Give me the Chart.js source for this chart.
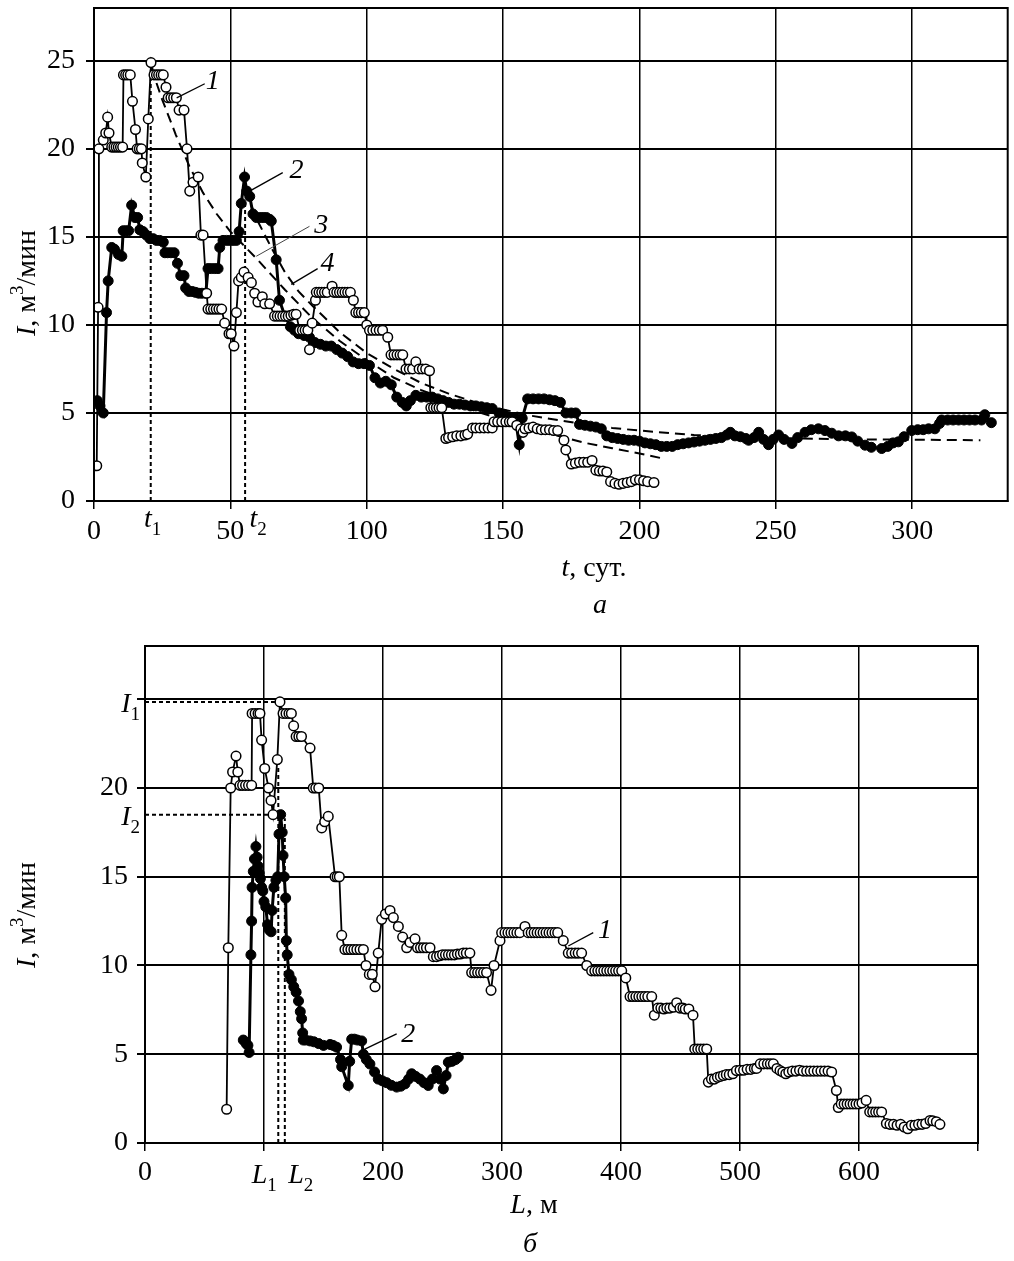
<!DOCTYPE html>
<html>
<head>
<meta charset="utf-8">
<script src="https://cdn.jsdelivr.net/npm/chart.js@4.4.0/dist/chart.umd.min.js"></script>
<style>
  body { margin: 0; background: #fff; width: 1014px; height: 1261px; position: relative; overflow: hidden; }
  canvas { position: absolute; left: 0; }
  #topChart { top: -20px; }
  #botChart { top: 620px; }
</style>
</head>
<body>
<canvas id="topChart" width="1014" height="640"></canvas>
<canvas id="botChart" width="1014" height="641"></canvas>
<script>
// ---- panel a: inflow I vs time t (days) ----
const topXTicks = [0, 50, 100, 150, 200, 250, 300];
const topYTicks = [0, 5, 10, 15, 20, 25];

// curve 1, open circles [t, I]
const topOpen = [
  [1.0,2.0],[1.5,11.0],[1.8,20.0],[3.4,20.5],[4.3,20.9],[5.0,21.8],[5.5,20.9],[6.5,20.1],[7.3,20.1],[8.1,20.1],
  [8.9,20.1],[9.7,20.1],[10.5,20.1],[10.8,24.2],[11.6,24.2],[12.4,24.2],[13.3,24.2],[14.1,22.7],[15.2,21.1],[15.8,20.0],
  [16.6,20.0],[17.4,20.0],[17.7,19.2],[19.0,18.4],[19.9,21.7],[20.9,24.9],[22.0,24.2],[22.9,24.2],[23.7,24.2],[24.6,24.2],
  [25.4,24.2],[26.4,23.5],[27.2,22.9],[28.2,22.9],[29.2,22.9],[30.2,22.9],[31.2,22.2],[33.0,22.2],[34.1,20.0],[35.1,17.6],
  [36.3,18.1],[38.2,18.4],[39.2,15.1],[40.0,15.1],[41.3,11.8],[41.8,10.9],[42.8,10.9],[43.8,10.9],[44.8,10.9],[45.8,10.9],
  [46.8,10.9],[47.9,10.1],[49.5,9.5],[50.3,9.5],[51.3,8.8],[52.2,10.7],[53.0,12.5],[54.0,12.7],[55.0,13.0],[56.5,12.7],
  [57.7,12.4],[58.9,11.8],[60.1,11.3],[61.7,11.6],[62.6,11.2],[64.4,11.2],[66.2,10.5],[67.2,10.5],[68.2,10.5],[69.2,10.5],
  [70.2,10.5],[71.2,10.5],[72.2,10.55],[73.2,10.6],[74.1,10.6],[75.4,9.7],[76.4,9.7],[77.4,9.7],[78.4,9.7],[79.0,8.6],
  [80.0,10.1],[81.2,11.4],[81.5,11.85],[82.5,11.85],[83.5,11.85],[84.5,11.85],[85.5,11.85],[87.3,12.2],[88.0,11.85],[89.0,11.85],
  [90.0,11.85],[91.0,11.85],[92.0,11.85],[93.0,11.85],[94.0,11.85],[95.1,11.4],[96.0,10.7],[97.0,10.7],[98.0,10.7],[99.1,10.7],
  [100.0,10.0],[101.0,9.7],[102.2,9.7],[103.4,9.7],[104.6,9.7],[105.8,9.7],[107.7,9.3],[108.9,8.3],[110.0,8.3],[111.1,8.3],
  [112.2,8.3],[113.2,8.3],[114.4,7.5],[115.6,7.5],[116.8,7.5],[118.0,7.9],[119.2,7.5],[120.4,7.5],[121.6,7.5],[123.0,7.4],
  [123.5,5.3],[124.5,5.3],[125.5,5.3],[126.5,5.3],[127.5,5.3],[129.0,3.55],[130.0,3.6],[131.5,3.65],[133.0,3.7],[134.5,3.7],
  [136.0,3.75],[137.0,3.8],[138.8,4.15],[140.0,4.15],[141.5,4.15],[143.0,4.15],[144.5,4.15],[146.0,4.15],[146.7,4.5],[148.0,4.5],
  [149.5,4.5],[151.0,4.5],[152.3,4.5],[153.3,4.5],[155.0,4.3],[156.5,4.1],[157.3,3.9],[158.0,4.1],[159.5,4.15],[161.0,4.2],
  [162.5,4.1],[164.0,4.05],[165.5,4.05],[167.0,4.05],[168.5,4.0],[170.0,4.0],[172.3,3.45],[173.0,2.9],[175.0,2.1],[176.5,2.15],
  [178.0,2.2],[179.5,2.2],[181.0,2.2],[182.6,2.3],[184.0,1.75],[185.3,1.7],[186.6,1.7],[188.0,1.65],[189.4,1.1],[191.0,1.0],
  [192.5,0.95],[194.0,1.0],[195.5,1.05],[197.0,1.1],[198.5,1.2],[200.0,1.2],[201.5,1.15],[203.0,1.1],[205.3,1.05]
];

// curve 2, filled circles [t, I]
const topFilled = [
  [1.2,5.7],[2.2,5.4],[3.4,5.0],[4.6,10.7],[5.2,12.5],[6.5,14.4],[7.5,14.3],[9.0,14.0],[10.2,13.9],[10.7,15.35],
  [11.7,15.35],[12.7,15.35],[13.8,16.8],[15.0,16.1],[16.0,16.1],[16.8,15.4],[18.0,15.3],[19.2,15.1],[20.5,14.9],[21.7,14.9],
  [22.9,14.8],[24.1,14.8],[25.4,14.7],[26.0,14.1],[27.0,14.1],[28.2,14.1],[29.4,14.1],[30.6,13.5],[31.8,12.8],[33.0,12.8],
  [33.6,12.1],[34.8,11.9],[36.0,11.9],[37.2,11.85],[38.4,11.8],[39.6,11.8],[41.0,11.8],[41.8,13.2],[43.0,13.2],[44.3,13.2],
  [45.5,13.2],[46.1,14.4],[47.3,14.8],[48.6,14.8],[49.8,14.8],[51.0,14.8],[52.2,14.8],[53.2,15.3],[54.0,16.9],[55.2,18.4],
  [56.0,17.6],[57.1,17.3],[58.3,16.3],[59.5,16.1],[60.8,16.1],[62.0,16.1],[63.2,16.1],[64.4,16.0],[65.0,15.9],[66.8,13.7],
  [68.0,11.4],[70.0,10.5],[72.0,9.9],[73.5,9.7],[75.0,9.5],[77.0,9.4],[79.0,9.3],[81.0,9.0],[83.0,8.9],[85.0,8.8],
  [87.0,8.8],[89.0,8.6],[91.0,8.4],[93.0,8.2],[95.0,7.9],[97.0,7.8],[99.0,7.8],[101.0,7.7],[103.0,7.0],[105.0,6.7],
  [107.0,6.8],[109.0,6.6],[111.0,5.9],[113.0,5.6],[114.5,5.4],[116.0,5.7],[118.0,6.0],[120.0,5.9],[122.0,5.9],[124.0,5.9],
  [126.0,5.8],[128.0,5.7],[130.0,5.6],[132.0,5.5],[134.0,5.5],[136.0,5.45],[138.0,5.4],[140.0,5.4],[142.0,5.35],[144.0,5.3],
  [146.0,5.25],[148.5,5.0],[150.5,4.9],[152.5,4.75],[154.5,4.7],[155.9,3.2],[157.0,4.7],[159.0,5.8],[161.0,5.8],[163.0,5.8],
  [165.0,5.8],[167.0,5.75],[169.0,5.7],[171.0,5.6],[173.0,5.0],[175.0,5.0],[176.6,5.0],[178.0,4.35],[180.0,4.3],[182.0,4.25],
  [184.0,4.2],[186.0,4.1],[188.0,3.7],[190.0,3.6],[192.0,3.55],[194.0,3.5],[196.0,3.45],[198.0,3.45],[200.0,3.4],[202.0,3.3],
  [204.0,3.25],[206.0,3.2],[208.0,3.1],[210.0,3.1],[212.0,3.1],[214.0,3.2],[216.0,3.25],[218.0,3.3],[220.0,3.35],[222.0,3.4],
  [224.0,3.45],[226.0,3.5],[228.0,3.55],[230.0,3.6],[232.0,3.75],[233.3,3.9],[235.0,3.7],[237.0,3.65],[239.0,3.55],[240.0,3.45],
  [242.0,3.6],[243.7,3.9],[245.5,3.5],[247.3,3.2],[249.0,3.5],[251.0,3.75],[253.0,3.5],[255.9,3.27],[258.0,3.6],[260.7,3.9],
  [263.0,4.05],[265.6,4.1],[268.0,4.0],[270.5,3.85],[273.0,3.7],[275.5,3.7],[277.8,3.64],[280.0,3.4],[282.7,3.17],[285.0,3.05],
  [288.8,2.98],[291.0,3.1],[293.0,3.3],[294.9,3.36],[297.0,3.65],[299.8,4.0],[302.0,4.05],[304.0,4.05],[306.0,4.1],[308.3,4.1],
  [310.0,4.4],[310.8,4.6],[313.0,4.6],[315.0,4.6],[317.0,4.6],[319.0,4.6],[321.0,4.6],[323.0,4.6],[325.4,4.6],[326.6,4.9],
  [329.0,4.45]
];

// approximating curves 3 and 4 (dashed)
const topFit3 = [
  [21,24.6],[25,22.8],[30,20.8],[35,19.0],[40,17.5],[45,16.3],[50,15.3],[60,13.7],[70,12.0],[80,10.4],
  [90,9.1],[100,8.0],[110,7.0],[120,6.3],[130,5.7],[140,5.1],[150,4.6],[160,4.1],[170,3.7],[180,3.3],
  [190,3.0],[200,2.7],[209,2.4]
];
const topFit4 = [
  [55.5,17.6],[60,15.9],[65,14.4],[70,13.0],[75,11.9],[80,11.1],[90,9.6],[100,8.4],[110,7.5],[120,6.7],
  [130,6.1],[140,5.6],[150,5.2],[160,4.85],[170,4.6],[180,4.35],[190,4.15],[200,4.0],[220,3.75],[240,3.62],
  [260,3.55],[280,3.5],[300,3.48],[325,3.45]
];
const t1Day = 20.8, t1Peak = 24.9;
const t2Day = 55.4, t2Top = 16.9;

// ---- panel б: inflow I vs length L (m) ----
const botXTicks = [0, 100, 200, 300, 400, 500, 600, 700];
const botXLabels = ['0', '', '200', '300', '400', '500', '600', ''];
const botYTicks = [0, 5, 10, 15, 20, 25];
const botYLabels = ['0', '5', '10', '15', '20', ''];

const botOpen = [
  [68.6,1.9],[70.0,11.0],[72.0,20.0],[73.6,20.9],[76.5,21.8],[78.0,20.9],[79.8,20.15],[82.0,20.15],[84.5,20.15],[87.0,20.15],
  [89.6,20.15],[90.0,24.2],[92.5,24.2],[95.0,24.2],[96.6,24.2],[98.0,22.7],[100.6,21.1],[103.8,20.0],[105.9,19.3],[107.6,18.5],
  [111.2,21.6],[113.4,24.85],[116.0,24.2],[118.5,24.2],[121.0,24.2],[123.0,24.2],[124.9,23.5],[127.0,22.9],[129.3,22.9],[131.5,22.9],
  [138.7,22.25],[141.4,20.0],[143.5,20.0],[146.0,20.0],[148.5,17.75],[151.0,18.1],[154.0,18.4],[159.7,15.0],[161.5,15.0],[163.3,15.0],
  [165.3,11.7],[168.0,10.9],[170.5,10.9],[173.0,10.9],[175.5,10.9],[178.0,10.9],[180.7,10.9],[183.5,10.9],[185.7,10.0],[188.5,9.5],
  [191.0,9.5],[193.3,8.8],[196.0,10.7],[198.9,12.6],[202.0,12.9],[205.9,13.1],[208.7,12.7],[212.9,12.2],[216.5,11.6],[219.9,11.0],
  [222.7,11.3],[226.9,11.5],[229.0,11.0],[231.5,11.0],[234.0,11.0],[236.5,11.0],[239.5,11.0],[242.3,10.5],[245.0,10.5],[247.5,10.55],
  [250.0,10.6],[252.5,10.6],[255.0,10.6],[257.5,10.6],[260.0,10.6],[262.5,10.65],[265.0,10.65],[267.5,10.7],[270.0,10.7],[273.0,10.7],
  [274.5,9.6],[277.0,9.6],[279.5,9.6],[282.0,9.6],[284.5,9.6],[287.0,9.6],[290.8,8.6],[293.3,10.0],[298.3,11.4],[299.7,11.85],
  [302.5,11.85],[305.0,11.85],[307.5,11.85],[310.0,11.85],[312.5,11.85],[315.0,11.85],[319.3,12.2],[322.0,11.85],[324.5,11.85],[327.0,11.85],
  [329.5,11.85],[332.0,11.85],[334.5,11.85],[337.0,11.85],[339.5,11.85],[342.0,11.85],[344.5,11.85],[346.8,11.85],[351.5,11.4],[355.7,10.7],
  [358.5,10.7],[361.5,10.7],[364.0,10.7],[366.9,10.7],[371.2,10.0],[375.3,9.7],[378.0,9.7],[380.5,9.7],[383.0,9.7],[385.5,9.7],
  [388.0,9.7],[390.5,9.7],[393.0,9.7],[395.5,9.7],[398.0,9.7],[400.6,9.7],[404.0,9.3],[407.6,8.25],[410.0,8.25],[412.5,8.25],
  [415.0,8.25],[417.5,8.25],[420.0,8.25],[422.5,8.25],[425.8,8.25],[428.0,7.2],[431.0,7.6],[433.5,7.6],[436.0,7.55],[438.5,7.6],
  [441.0,7.6],[444.0,7.65],[446.8,7.9],[449.5,7.6],[452.0,7.6],[454.0,7.55],[457.0,7.55],[460.5,7.2],[462.0,5.3],[464.5,5.3],
  [467.0,5.3],[469.5,5.3],[472.0,5.3],[473.4,3.43],[476.0,3.6],[478.5,3.6],[481.0,3.7],[483.5,3.75],[486.0,3.8],[488.5,3.85],
  [491.0,3.85],[494.0,3.9],[497.0,4.08],[500.0,4.1],[503.0,4.1],[506.0,4.15],[509.0,4.15],[512.0,4.2],[514.0,4.2],[517.0,4.46],
  [520.0,4.46],[523.0,4.46],[525.5,4.46],[528.0,4.46],[531.0,4.2],[533.6,4.08],[536.0,4.0],[538.5,3.9],[541.0,4.0],[544.0,4.05],
  [547.0,4.05],[550.0,4.1],[553.0,4.05],[556.0,4.05],[559.0,4.05],[562.0,4.05],[565.0,4.05],[568.0,4.05],[571.0,4.05],[574.0,4.05],
  [577.0,4.0],[581.0,2.96],[582.6,2.0],[585.0,2.2],[587.5,2.2],[590.0,2.2],[592.5,2.2],[595.0,2.2],[597.5,2.2],[600.0,2.2],
  [602.5,2.25],[606.0,2.4],[609.0,1.75],[611.5,1.75],[614.0,1.75],[616.5,1.75],[619.0,1.75],[623.0,1.1],[626.0,1.05],[629.0,1.05],
  [632.0,1.0],[635.0,1.05],[638.0,0.9],[641.0,0.8],[644.0,1.0],[647.0,1.0],[650.0,1.05],[653.0,1.05],[656.0,1.1],[659.7,1.27],
  [662.0,1.25],[665.0,1.2],[668.0,1.05]
];

const botFilled = [
  [82.6,5.8],[85.0,5.6],[86.5,5.5],[87.5,5.1],[89.0,10.6],[89.6,12.5],[90.0,14.4],[91.0,15.3],[92.0,16.0],[93.2,16.7],
  [94.2,16.1],[95.0,15.6],[96.0,15.2],[97.0,14.9],[98.0,14.4],[99.0,14.2],[100.0,13.6],[101.5,13.3],[103.0,12.3],[104.5,12.0],
  [106.0,11.9],[106.8,13.1],[108.3,14.4],[110.0,14.8],[111.5,15.0],[112.6,17.4],[114.0,18.5],[115.3,17.5],[116.0,16.2],[117.0,15.0],
  [118.2,13.8],[118.8,11.4],[119.5,10.6],[121.0,9.5],[123.0,9.2],[125.0,8.8],[127.0,8.5],[129.0,8.0],[130.5,7.4],[131.6,7.0],
  [132.5,6.2],[133.0,5.8],[135.0,5.8],[138.7,5.75],[142.0,5.7],[146.0,5.6],[150.0,5.5],[155.5,5.55],[158.0,5.5],[161.0,5.4],
  [164.3,4.7],[165.3,4.3],[170.8,3.24],[172.0,4.6],[173.7,5.85],[176.0,5.85],[178.5,5.8],[182.1,5.75],[183.5,5.0],[186.0,4.7],
  [189.0,4.45],[192.9,4.0],[196.0,3.6],[199.5,3.5],[203.0,3.4],[207.0,3.25],[211.5,3.15],[215.0,3.2],[218.5,3.33],[221.5,3.6],
  [224.1,3.9],[227.5,3.75],[231.0,3.6],[234.5,3.4],[238.0,3.24],[241.5,3.6],[245.0,4.08],[248.0,3.6],[250.7,3.05],[253.0,3.8],
  [254.9,4.55],[258.0,4.6],[261.0,4.7],[263.3,4.83]
];
const L1 = 112, L1Top = 21.6, L2 = 117.5, L2Top = 18.3;
const I1 = 24.85, I1End = 113.4, I2 = 18.5, I2End = 110.6;

const FONT = 'Liberation Serif';
const pts = arr => arr.map(([x, y]) => ({ x, y }));

function drawRich(ctx, parts, x, y, align) {
  const font = p => (p.it ? 'italic ' : '') + (p.sub || p.sup ? 19 : 28) + 'px "' + FONT + '"';
  let w = 0;
  parts.forEach(p => { ctx.font = font(p); w += ctx.measureText(p.t).width; });
  let cx = align === 'center' ? x - w / 2 : align === 'right' ? x - w : x;
  ctx.fillStyle = '#000';
  ctx.textAlign = 'left';
  ctx.textBaseline = 'alphabetic';
  parts.forEach(p => {
    ctx.font = font(p);
    ctx.fillText(p.t, cx, y + (p.sub ? 8 : p.sup ? -12 : 0));
    cx += ctx.measureText(p.t).width;
  });
}

const decor = {
  id: 'decor',
  afterDatasetsDraw(chart, args, opts) {
    const { ctx, chartArea: a } = chart;
    const sx = chart.scales.x, sy = chart.scales.y;
    ctx.save();
    ctx.strokeStyle = '#000';
    ctx.lineWidth = 2;
    ctx.setLineDash([]);
    ctx.strokeRect(a.left, a.top, a.right - a.left, a.bottom - a.top);
    (opts.leaders || []).forEach(l => {
      ctx.lineWidth = l.w || 1.3;
      ctx.strokeStyle = l.c || '#000';
      ctx.beginPath();
      ctx.moveTo(sx.getPixelForValue(l.from[0]), sy.getPixelForValue(l.from[1]));
      ctx.lineTo(sx.getPixelForValue(l.to[0]), sy.getPixelForValue(l.to[1]));
      ctx.stroke();
    });
    (opts.tags || []).forEach(t => {
      drawRich(ctx, [{ t: t.text, it: true }], sx.getPixelForValue(t.at[0]), sy.getPixelForValue(t.at[1]) + 10, 'center');
    });
    (opts.texts || []).forEach(t => {
      const x = t.vx !== undefined ? sx.getPixelForValue(t.vx) + (t.x || 0) : t.x;
      const y = t.vy !== undefined ? sy.getPixelForValue(t.vy) + (t.y || 0) : t.y;
      ctx.save();
      ctx.translate(x, y);
      if (t.rot) ctx.rotate(t.rot);
      drawRich(ctx, t.parts, 0, 0, t.align || 'center');
      ctx.restore();
    });
    ctx.restore();
  }
};

function openSet(data) {
  return { data: pts(data), showLine: true, borderColor: '#000', borderWidth: 1.8,
    pointRadius: 4.8, pointBackgroundColor: '#fff', pointBorderColor: '#000', pointBorderWidth: 1.5, order: 0 };
}
function filledSet(data) {
  return { data: pts(data), showLine: true, borderColor: '#000', borderWidth: 3,
    pointRadius: 5, pointBackgroundColor: '#000', pointBorderColor: '#000', pointBorderWidth: 1, order: 1 };
}
function dashSet(data, dash, width, order) {
  return { data: pts(data), showLine: true, borderColor: '#000', borderWidth: width,
    borderDash: dash, pointRadius: 0, order };
}

function axes(o) {
  const tickFont = { family: FONT, size: 28 };
  return {
    x: {
      type: 'linear', min: o.xMin, max: o.xMax,
      afterBuildTicks: s => { s.ticks = o.xTicks.map(v => ({ value: v })); },
      afterFit: s => { s.height = o.xHeight; },
      grid: { color: '#000', lineWidth: 1.5, tickLength: 8 },
      border: { color: '#000', width: 2 },
      ticks: { color: '#000', font: tickFont, padding: o.xPad, maxRotation: 0, autoSkip: false,
        callback: (v, i) => o.xLabels ? o.xLabels[i] : String(v) }
    },
    y: {
      type: 'linear', min: 0, max: 28,
      afterBuildTicks: s => { s.ticks = o.yTicks.map(v => ({ value: v })); },
      afterFit: s => { s.width = o.yWidth; },
      grid: { color: '#000', lineWidth: 2, tickLength: 8 },
      border: { color: '#000', width: 2 },
      ticks: { color: '#000', font: tickFont, padding: o.yPad, autoSkip: false,
        callback: (v, i) => o.yLabels ? o.yLabels[i] : String(v) }
    }
  };
}

const yTitle = [{ t: 'I', it: true }, { t: ', м' }, { t: '3', sup: true }, { t: '/мин' }];

new Chart(document.getElementById('topChart'), {
  type: 'scatter',
  data: {
    datasets: [
      openSet(topOpen),
      filledSet(topFilled),
      dashSet(topFit3, [10, 6], 2, 2),
      dashSet(topFit4, [10, 6], 2, 2),
      dashSet([[t1Day, 0], [t1Day, t1Peak]], [4, 3], 2, 3),
      dashSet([[t2Day, 0], [t2Day, t2Top]], [4, 3], 2, 3)
    ]
  },
  options: {
    responsive: false, animation: false, devicePixelRatio: 1,
    layout: { padding: { left: 0, top: 28, right: 4, bottom: 0 } },
    scales: axes({ xMin: 0, xMax: 335, xTicks: topXTicks, yTicks: topYTicks,
      xHeight: 119, yWidth: 94, xPad: 6, yPad: 11 }),
    plugins: {
      legend: { display: false }, tooltip: { enabled: false },
      decor: {
        leaders: [
          { from: [40.6, 23.7], to: [30.3, 22.9] },
          { from: [69.2, 18.65], to: [55.9, 17.5] },
          { from: [79.0, 15.6], to: [59.5, 13.9], w: 1, c: '#444' },
          { from: [82.0, 13.2], to: [72.3, 12.3] }
        ],
        tags: [
          { text: '1', at: [43.5, 23.95] },
          { text: '2', at: [74.2, 18.9] },
          { text: '3', at: [83.3, 15.8] },
          { text: '4', at: [85.6, 13.65] }
        ],
        texts: [
          { parts: yTitle, x: 35, y: 303, rot: -Math.PI / 2 },
          { parts: [{ t: 't', it: true }, { t: ', сут.' }], x: 594, y: 596 },
          { parts: [{ t: 'а', it: true }], x: 600, y: 633 },
          { parts: [{ t: 't', it: true }, { t: '1', sub: true }], vx: t1Day, x: 2, y: 547 },
          { parts: [{ t: 't', it: true }, { t: '2', sub: true }], vx: t2Day, x: 13, y: 547 }
        ]
      }
    }
  },
  plugins: [decor]
});

new Chart(document.getElementById('botChart'), {
  type: 'scatter',
  data: {
    datasets: [
      openSet(botOpen),
      filledSet(botFilled),
      dashSet([[L1, 0], [L1, L1Top]], [4, 3], 2, 3),
      dashSet([[L2, 0], [L2, L2Top]], [4, 3], 2, 3),
      dashSet([[0, I1], [I1End, I1]], [4, 3], 2, 3),
      dashSet([[0, I2], [I2End, I2]], [4, 3], 2, 3)
    ]
  },
  options: {
    responsive: false, animation: false, devicePixelRatio: 1,
    layout: { padding: { left: 0, top: 26, right: 36, bottom: 0 } },
    scales: axes({ xMin: 0, xMax: 700, xTicks: botXTicks, xLabels: botXLabels,
      yTicks: botYTicks, yLabels: botYLabels, xHeight: 118, yWidth: 145, xPad: 5, yPad: 9 }),
    plugins: {
      legend: { display: false }, tooltip: { enabled: false },
      decor: {
        leaders: [
          { from: [376.7, 11.85], to: [355.7, 11.1] },
          { from: [211.5, 6.15], to: [182.1, 5.2] }
        ],
        tags: [
          { text: '1', at: [386.6, 12.1] },
          { text: '2', at: [221.3, 6.24] }
        ],
        texts: [
          { parts: yTitle, x: 35, y: 295, rot: -Math.PI / 2 },
          { parts: [{ t: 'L', it: true }, { t: ', м' }], x: 534, y: 593 },
          { parts: [{ t: 'б', it: true }], x: 530, y: 632 },
          { parts: [{ t: 'L', it: true }, { t: '1', sub: true }], vx: L1, x: -14, y: 563 },
          { parts: [{ t: 'L', it: true }, { t: '2', sub: true }], vx: L2, x: 16, y: 563 },
          { parts: [{ t: 'I', it: true }, { t: '1', sub: true }], x: 140, vy: I1, y: 10, align: 'right' },
          { parts: [{ t: 'I', it: true }, { t: '2', sub: true }], x: 140, vy: I2, y: 10, align: 'right' }
        ]
      }
    }
  },
  plugins: [decor]
});
</script>
</body>
</html>
